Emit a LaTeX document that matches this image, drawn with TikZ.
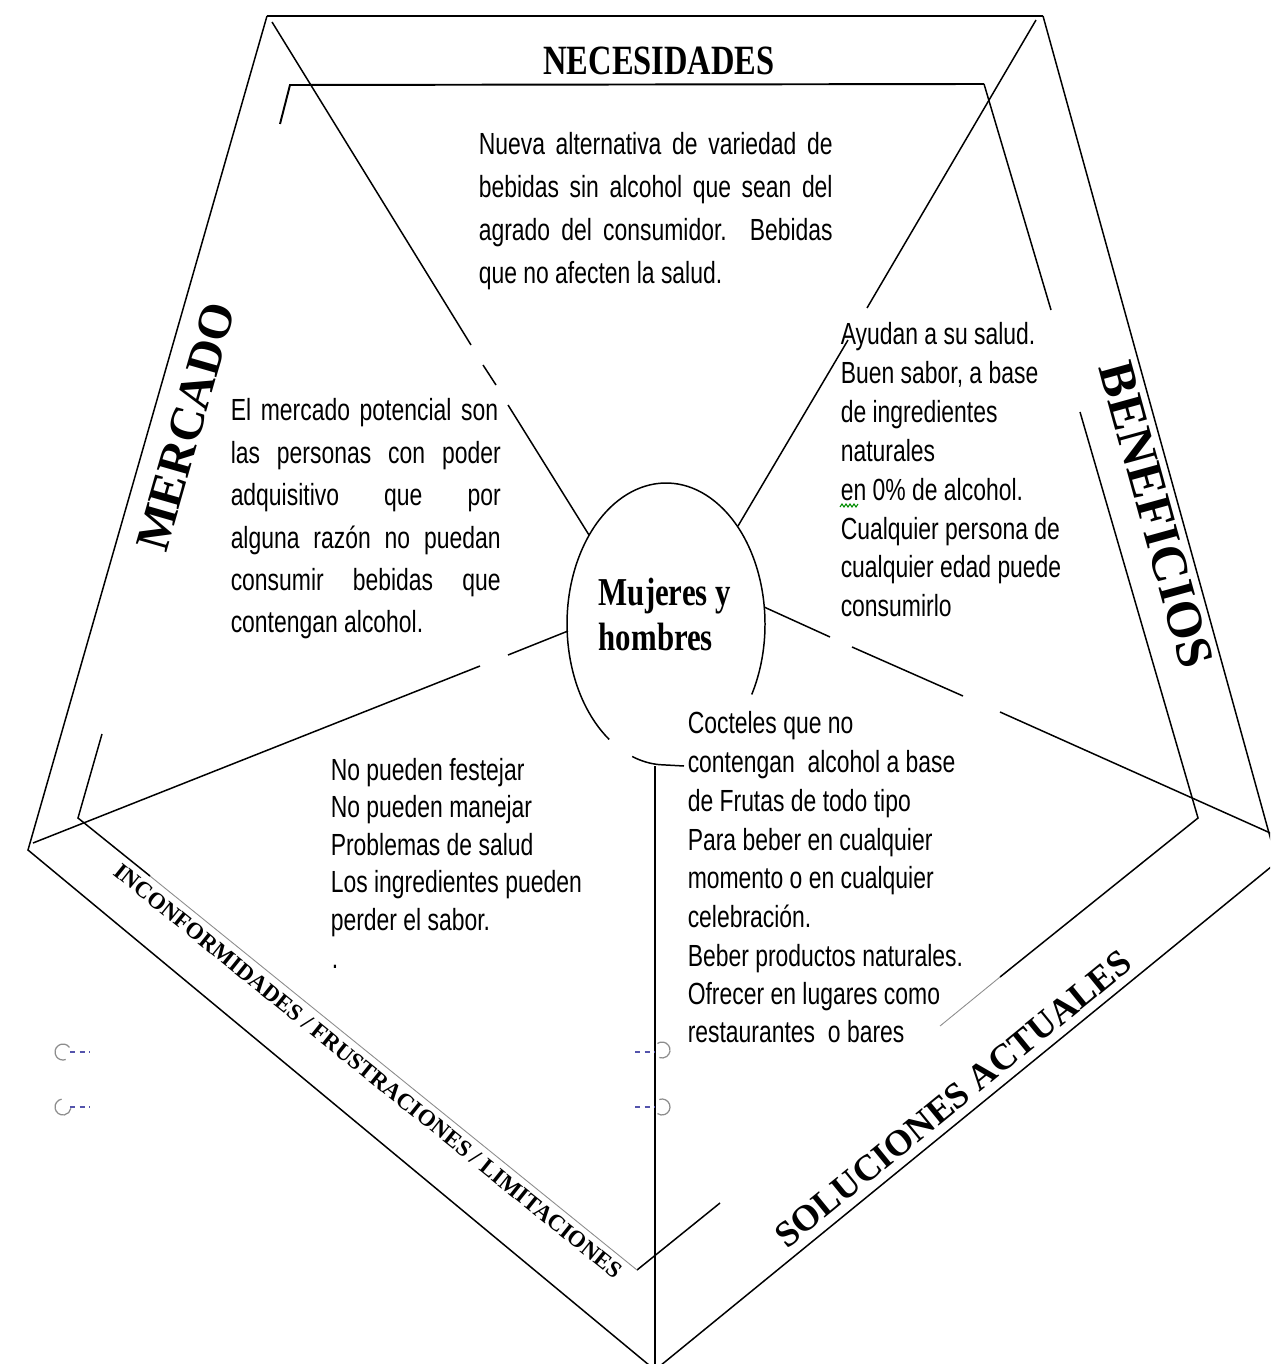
\documentclass[tikz,border=0pt]{standalone}
\usepackage{fontspec}
\setmainfont{Liberation Serif}
\newfontfamily\bodyf{Liberation Sans}[FakeStretch=0.75]
\newfontfamily\titlef{Liberation Serif}[FakeStretch=0.78]
\tikzset{
  body/.style={font=\bodyf\fontsize{17.4}{22}\selectfont, inner sep=0pt, anchor=base west},
  ttl/.style={font=\titlef\bfseries\fontsize{23.7}{28}\selectfont, inner sep=0pt},
  ctr/.style={font=\titlef\bfseries\fontsize{22.5}{28}\selectfont, inner sep=0pt, anchor=base west},
  lbl/.style={inner sep=0pt},
  edge/.style={line width=0.85pt},
  heavy/.style={line width=1.5pt},
  mid/.style={line width=1.1pt},
  faint/.style={line width=0.5pt, black!45},
  anchgray/.style={black!45, line width=0.7pt},
  anchblue/.style={color=blue!35!gray, line width=0.9pt, dash pattern=on 3pt off 2.5pt}
}
\newcommand{\jl}[2]{\makebox[#1][s]{#2}}
\begin{document}
\begin{tikzpicture}[x=0.02cm, y=-0.02cm, edge]
\useasboundingbox (0,0) rectangle (1270,1364);
\clip (0,0) rectangle (1270,1364);

% ---------- outer pentagon ----------
\coordinate (OTL) at (267,16);
\coordinate (OTR) at (1043,16);
\coordinate (OL)  at (28,850);
\coordinate (OB)  at (655,1370);
\coordinate (OR)  at (1277,862);
\draw[heavy] (OTL) -- (OTR);
\draw (OTR) -- (OR) -- (OB) -- (OL) -- (OTL);

% ---------- inner pentagon (band) ----------
\coordinate (ITL) at (290,85);
\coordinate (ITR) at (984,84);
\coordinate (IR)  at (1198,818);
\coordinate (IB)  at (637,1270);
\coordinate (IL)  at (78,818);
\draw[mid] (280,124) -- (ITL) -- (ITR);
\draw (ITR) -- (1051,310);
\draw (1080,412) -- (IR) -- (1000,977);
\draw[faint] (1000,977) -- (940,1026);
\draw (720,1203) -- (IB);
\draw[faint] (IB) -- (150,876);
\draw (150,876) -- (IL) -- (102,734);

% ---------- central ellipse ----------
\coordinate (c) at (666,624);
\draw (c) ++(-30:1.98cm and 2.82cm) arc[start angle=-30, end angle=235, x radius=1.98cm, y radius=2.82cm];
\draw (c) ++(250:1.98cm and 2.82cm) arc[start angle=250, end angle=266, x radius=1.98cm, y radius=2.82cm] coordinate (cb);
\coordinate (tee) at (655,766);
\draw (cb) -- (684,766);
\draw (tee) -- (655,1370);

% ---------- radial lines ----------
\draw (272,22) -- (471,345);
\draw (483,365) -- (496,385);
\draw (508,405) -- (589,535);
\draw (1036,20) -- (867,308);
\draw (848,340) -- (738,526);
\draw (764,607) -- (830,637);
\draw (852,647) -- (963,696);
\draw (1000,712) -- (1277,836);
\draw (568,631) -- (508,655);
\draw (480,666) -- (33,843);

% ---------- band labels ----------
\node[ttl, anchor=base] (necesidades) at (659,75) {NECESIDADES};
\node[lbl, font=\bfseries\fontsize{27.5}{30}\selectfont, rotate=74] (mercado) at (186,427) {MERCADO};
\node[lbl, font=\bfseries\fontsize{29}{30}\selectfont, rotate=-74.6] (beneficios) at (1156,515) {BENEFICIOS};
\node[lbl, font=\bfseries\fontsize{20.8}{24}\selectfont, rotate=39.2] (soluciones) at (953,1099) {SOLUCIONES ACTUALES};
\node[lbl, font=\bfseries\fontsize{13.2}{15}\selectfont, rotate=-38.9] (inconf) at (368,1071) {INCONFORMIDADES / FRUSTRACIONES / LIMITACIONES};

% ---------- centre ----------
\node[ctr] (mujeres) at (598,605) {Mujeres y};
\node[ctr] (hombres) at (598,650) {hombres};

% ---------- NECESIDADES text ----------
\node[body] (nec1) at (478,155) {\jl{7.08cm}{Nueva alternativa de variedad de}};
\node[body] (nec2) at (478,198) {\jl{7.08cm}{bebidas sin alcohol que sean del}};
\node[body] (nec3) at (478,241) {\jl{7.08cm}{agrado del consumidor. Bebidas}};
\node[body] (nec4) at (478,284) {que no afecten la salud.};

% ---------- MERCADO text ----------
\node[body] (mer1) at (230,421) {\jl{5.35cm}{El mercado potencial son}};
\node[body] (mer2) at (230,463) {\jl{5.4cm}{las personas con poder}};
\node[body] (mer3) at (230,505) {\jl{5.4cm}{adquisitivo que por}};
\node[body] (mer4) at (230,548) {\jl{5.4cm}{alguna razón no puedan}};
\node[body] (mer5) at (230,590) {\jl{5.4cm}{consumir bebidas que}};
\node[body] (mer6) at (230,632) {contengan alcohol.};

% ---------- BENEFICIOS text ----------
\node[body] (ben1) at (840,345.0) {Ayudan a su salud.};
\node[body] (ben2) at (840,383.8) {Buen sabor, a base};
\node[body] (ben3) at (840,422.6) {de ingredientes};
\node[body] (ben4) at (840,461.4) {naturales};
\node[body] (ben5) at (840,500.2) {en 0\% de alcohol.};
\node[body] (ben6) at (840,539.0) {Cualquier persona de};
\node[body] (ben7) at (840,577.8) {cualquier edad puede};
\node[body] (ben8) at (840,616.6) {consumirlo};
\draw[green!55!black, line width=0.6pt] (840,507) -- (842,504) -- (844,507) -- (846,504) -- (848,507) -- (850,504) -- (852,507) -- (854,504) -- (856,507) -- (858,504);

% ---------- INCONFORMIDADES text ----------
\node[body] (inc1) at (330,780) {No pueden festejar};
\node[body] (inc2) at (330,817.5) {No pueden manejar};
\node[body] (inc3) at (330,855) {Problemas de salud};
\node[body] (inc4) at (330,892.5) {Los ingredientes pueden};
\node[body] (inc5) at (330,930) {perder el sabor.};
\node[body] (inc6) at (331,968) {.};

% ---------- SOLUCIONES text ----------
\node[body] (sol1) at (687,733) {Cocteles que no};
\node[body] (sol2) at (687,772) {contengan\ \ alcohol a base};
\node[body] (sol3) at (687,811) {de Frutas de todo tipo};
\node[body] (sol4) at (687,850) {Para beber en cualquier};
\node[body] (sol5) at (687,888) {momento o en cualquier};
\node[body] (sol6) at (687,927) {celebración.};
\node[body] (sol7) at (687,966) {Beber productos naturales.};
\node[body] (sol8) at (687,1004) {Ofrecer en lugares como};
\node[body] (sol9) at (687,1042) {restaurantes\ \ o bares};

% ---------- anchor marks ----------
\draw[anchgray] (63,1052) ++(35:0.16cm) arc[start angle=35, end angle=290, radius=0.16cm];
\draw[anchblue] (70,1052) -- (90,1052);
\draw[anchgray] (63,1107) ++(100:0.16cm) arc[start angle=100, end angle=350, radius=0.16cm];
\draw[anchblue] (70,1107) -- (90,1107);
\draw[anchblue] (635,1052) -- (655,1052);
\draw[anchgray] (662,1050) ++(125:0.16cm) arc[start angle=125, end angle=-110, radius=0.16cm];
\draw[anchblue] (635,1107) -- (655,1107);
\draw[anchgray] (662,1107) ++(110:0.16cm) arc[start angle=110, end angle=-125, radius=0.16cm];
\end{tikzpicture}
\end{document}
